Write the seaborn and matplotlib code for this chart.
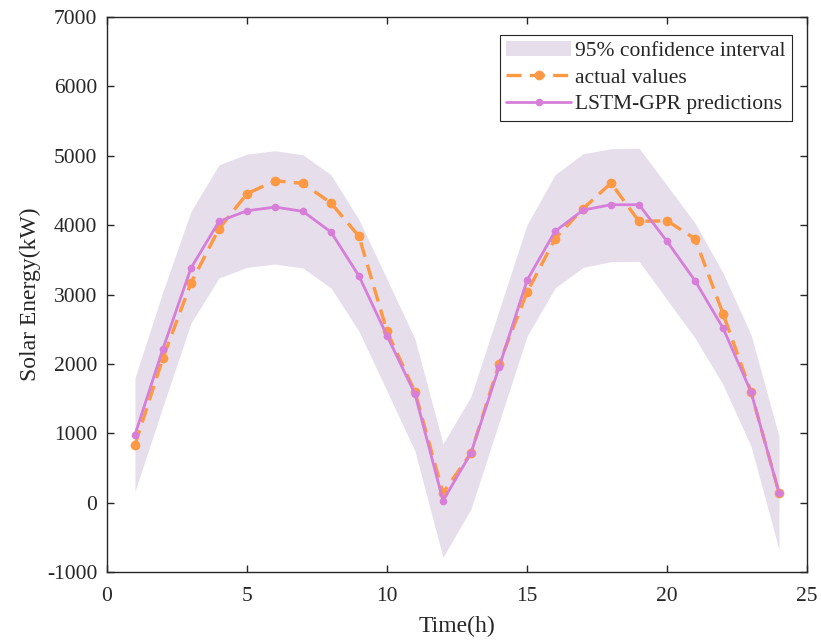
import numpy as np
import pandas as pd
import matplotlib
matplotlib.use("Agg")
import matplotlib.pyplot as plt
import seaborn as sns

hours = list(range(1, 25))
actual = [836, 2085, 3165, 3948, 4452, 4640, 4601, 4318, 3838, 2469, 1595, 139,
          716, 1998, 3031, 3804, 4236, 4606, 4054, 4063, 3804, 2723, 1595, 139]
pred = [980, 2219, 3381, 4054, 4207, 4260, 4198, 3900, 3266, 2406, 1566, 29,
        716, 1950, 3203, 3910, 4217, 4294, 4294, 3766, 3199, 2517, 1595, 139]
upper = [1797, 3045, 4198, 4870, 5024, 5072, 5014, 4726, 4078, 3223, 2358, 850,
         1532, 2771, 4006, 4726, 5029, 5101, 5110, 4572, 4030, 3310, 2421, 955]
lower = [163, 1388, 2589, 3237, 3391, 3439, 3381, 3093, 2469, 1609, 740, -788,
         -91, 1153, 2397, 3093, 3391, 3473, 3477, 2925, 2373, 1700, 811, -677]

df = pd.DataFrame({"hour": hours, "actual": actual, "pred": pred,
                   "upper": upper, "lower": lower})

sns.set_style("white")
plt.rcParams["font.family"] = ["Liberation Serif", "DejaVu Serif"]
plt.rcParams["axes.unicode_minus"] = False

fig = plt.figure(figsize=(8.21, 6.41), dpi=100)
ax = fig.add_axes([0.1303, 0.1076, 0.8527, 0.8659])

c_band = "#E7DEEC"
c_orange = "#FD9843"
c_purple = "#D67ED8"
c_ax = "#262626"

ax.fill_between(df["hour"], df["lower"], df["upper"], color=c_band,
                linewidth=0, label="95% confidence interval")
sns.lineplot(data=df, x="hour", y="actual", ax=ax, color=c_orange,
             linestyle=(0, (4.5, 2.5)), linewidth=2.4, marker="o", markersize=7,
             markeredgewidth=0, label="actual values")
sns.lineplot(data=df, x="hour", y="pred", ax=ax, color=c_purple,
             linewidth=2.0, marker="o", markersize=5.5, markeredgewidth=0,
             label="LSTM-GPR predictions")

ax.set_xlim(0, 25)
ax.set_ylim(-1000, 7000)
ax.set_xticks([0, 5, 10, 15, 20, 25])
ax.set_yticks(list(range(-1000, 7001, 1000)))
ax.tick_params(direction="in", length=5, width=1, labelsize=15.5, color=c_ax,
               labelcolor=c_ax, top=True, right=True, bottom=True, left=True)
ax.tick_params(axis="x", pad=11)
ax.tick_params(axis="y", pad=7)
for s in ax.spines.values():
    s.set_color(c_ax)
    s.set_linewidth(1.0)

ax.set_xlabel("Time(h)", fontsize=17, color=c_ax, labelpad=7)
ax.set_ylabel("Solar Energy(kW)", fontsize=17, color=c_ax, labelpad=4)

leg = ax.legend(loc="upper right", fontsize=15.5, frameon=True, fancybox=False,
                edgecolor=c_ax, framealpha=1, borderpad=0.3,
                handlelength=3.0, handletextpad=0.2, labelspacing=0.3,
                bbox_to_anchor=(0.979, 0.968), borderaxespad=0)
leg.get_frame().set_linewidth(0.8)

fig.savefig("out.png", dpi=100)
